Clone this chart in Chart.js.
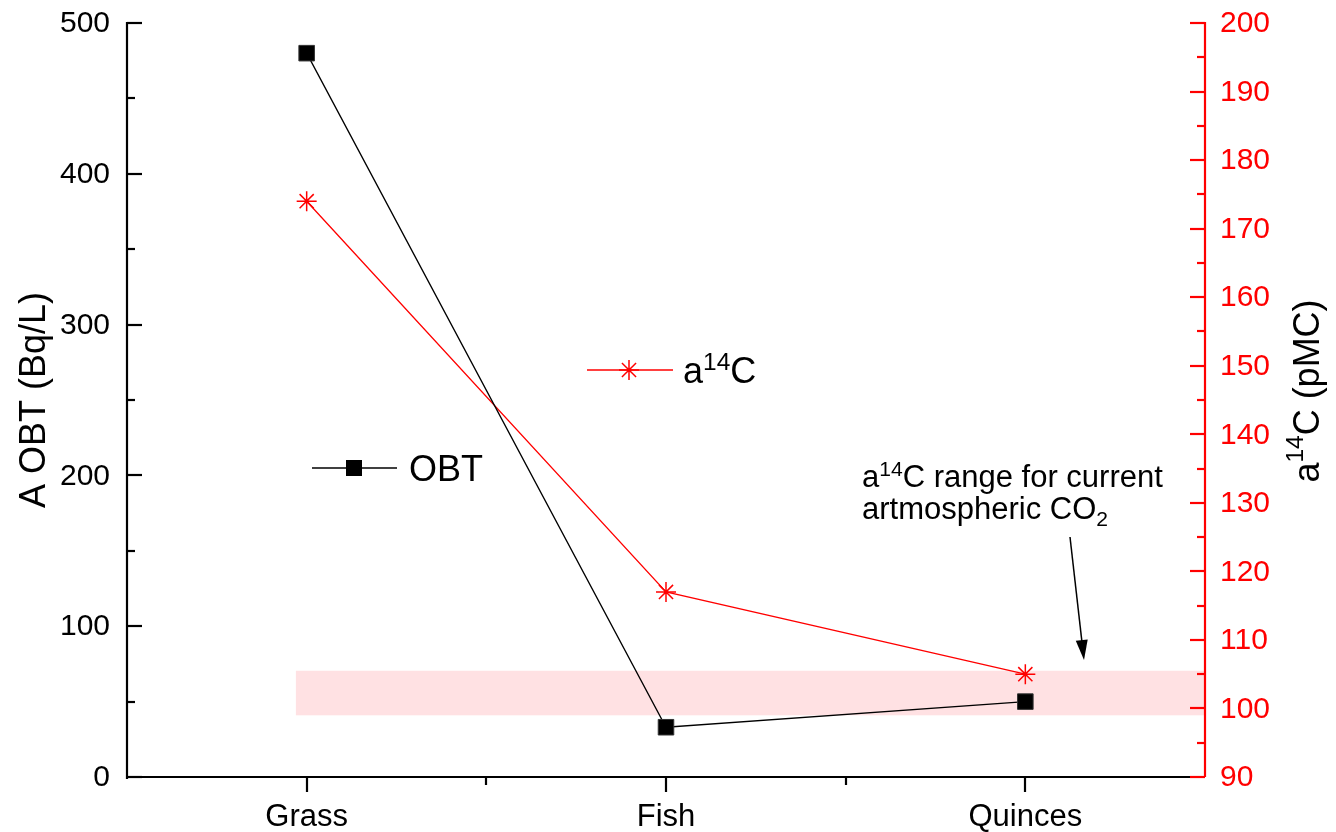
<!DOCTYPE html>
<html>
<head>
<meta charset="utf-8">
<script src="https://cdn.jsdelivr.net/npm/chart.js@4/dist/chart.umd.min.js"></script>
<style>
html,body{margin:0;padding:0;background:#fff;}
#wrap{width:1336px;height:832px;position:relative;}
</style>
</head>
<body>
<div id="wrap"><canvas id="c" width="1336" height="832"></canvas></div>
<script>
// ---- data ----
const categories = ['Grass', 'Fish', 'Quinces'];
const obtValues = [480, 33, 50];          // A OBT (Bq/L), left axis
const a14cValues = [174, 117, 105];       // a14C (pMC), right axis
const leftTicks = [0, 100, 200, 300, 400, 500];
const leftMinorTicks = [50, 150, 250, 350, 450];
const rightTicks = [90, 100, 110, 120, 130, 140, 150, 160, 170, 180, 190, 200];
const rightMinorTicks = [95, 105, 115, 125, 135, 145, 155, 165, 175, 185, 195];
const xMinorTicks = [0.5, 1.5];
const bandPMC = [99, 105.5];              // current atmospheric CO2 a14C range
const bandCategorySpan = [-0.03, 2.5];

const FONT = '"Liberation Sans", Arial, sans-serif';
const RED = '#ff0000';

function richWidth(ctx, parts, size) {
  let w = 0;
  for (const p of parts) {
    const s = p.sup || p.sub ? size * 0.68 : size;
    ctx.font = s + 'px ' + FONT;
    w += ctx.measureText(p.t).width;
  }
  return w;
}
function drawRich(ctx, parts, x, y, size, align) {
  const w = richWidth(ctx, parts, size);
  let cx = align === 'center' ? x - w / 2 : (align === 'right' ? x - w : x);
  ctx.textAlign = 'left';
  for (const p of parts) {
    const s = p.sup || p.sub ? size * 0.68 : size;
    ctx.font = s + 'px ' + FONT;
    let dy = 0;
    if (p.sup) dy = -size * 0.36;
    if (p.sub) dy = size * 0.22;
    ctx.fillText(p.t, cx, y + dy);
    cx += ctx.measureText(p.t).width;
  }
}

const decorPlugin = {
  id: 'decor',
  beforeDatasetsDraw(chart) {
    const ctx = chart.ctx;
    const x = chart.scales.x, y2 = chart.scales.y2;
    const xa = x.getPixelForValue(bandCategorySpan[0]);
    const xb = x.getPixelForValue(bandCategorySpan[1]);
    const ya = y2.getPixelForValue(bandPMC[1]);
    const yb = y2.getPixelForValue(bandPMC[0]);
    ctx.save();
    ctx.fillStyle = '#ffe1e3';
    ctx.fillRect(xa, ya, xb - xa, yb - ya);
    ctx.restore();
  },
  afterDatasetsDraw(chart) {
    const ctx = chart.ctx;
    const a = chart.chartArea;
    const x = chart.scales.x, y = chart.scales.y, y2 = chart.scales.y2;
    ctx.save();
    ctx.lineWidth = 2.2;
    // left axis
    ctx.strokeStyle = '#000';
    ctx.beginPath(); ctx.moveTo(a.left, a.top - 1); ctx.lineTo(a.left, a.bottom + 2); ctx.stroke();
    for (const v of leftTicks) {
      const py = Math.round(y.getPixelForValue(v));
      ctx.beginPath(); ctx.moveTo(a.left, py); ctx.lineTo(a.left + 15, py); ctx.stroke();
    }
    for (const v of leftMinorTicks) {
      const py = Math.round(y.getPixelForValue(v));
      ctx.beginPath(); ctx.moveTo(a.left, py); ctx.lineTo(a.left + 8, py); ctx.stroke();
    }
    // bottom axis
    ctx.beginPath(); ctx.moveTo(a.left - 1, a.bottom); ctx.lineTo(a.right, a.bottom); ctx.stroke();
    categories.forEach((c, i) => {
      const px = Math.round(x.getPixelForValue(i));
      ctx.beginPath(); ctx.moveTo(px, a.bottom); ctx.lineTo(px, a.bottom + 15); ctx.stroke();
    });
    for (const v of xMinorTicks) {
      const px = Math.round(x.getPixelForValue(v));
      ctx.beginPath(); ctx.moveTo(px, a.bottom); ctx.lineTo(px, a.bottom + 8); ctx.stroke();
    }
    // right axis
    ctx.strokeStyle = RED;
    ctx.beginPath(); ctx.moveTo(a.right, a.top - 1); ctx.lineTo(a.right, a.bottom); ctx.stroke();
    for (const v of rightTicks) {
      const py = Math.round(y2.getPixelForValue(v));
      ctx.beginPath(); ctx.moveTo(a.right, py); ctx.lineTo(a.right - 15, py); ctx.stroke();
    }
    for (const v of rightMinorTicks) {
      const py = Math.round(y2.getPixelForValue(v));
      ctx.beginPath(); ctx.moveTo(a.right, py); ctx.lineTo(a.right - 8, py); ctx.stroke();
    }
    ctx.restore();
  },
  afterDraw(chart) {
    const ctx = chart.ctx;
    const a = chart.chartArea;
    const x = chart.scales.x, y = chart.scales.y, y2 = chart.scales.y2;
    ctx.save();
    // tick labels
    ctx.font = '30px ' + FONT;
    ctx.fillStyle = '#000';
    ctx.textAlign = 'right'; ctx.textBaseline = 'middle';
    for (const v of leftTicks) ctx.fillText(String(v), a.left - 17, y.getPixelForValue(v) + 1);
    ctx.fillStyle = RED; ctx.textAlign = 'left';
    for (const v of rightTicks) ctx.fillText(String(v), a.right + 15, y2.getPixelForValue(v) + 1);
    ctx.fillStyle = '#000'; ctx.textAlign = 'center'; ctx.textBaseline = 'alphabetic';
    ctx.font = '31px ' + FONT;
    categories.forEach((c, i) => ctx.fillText(c, x.getPixelForValue(i), 826));

    // axis titles
    ctx.textBaseline = 'middle';
    ctx.save();
    ctx.translate(35, (a.top + a.bottom) / 2);
    ctx.rotate(-Math.PI / 2);
    ctx.font = '36px ' + FONT; ctx.textAlign = 'center';
    ctx.fillText('A OBT (Bq/L)', 0, 0);
    ctx.restore();
    ctx.save();
    ctx.translate(1309, 391);
    ctx.rotate(-Math.PI / 2);
    drawRich(ctx, [{t:'a'},{t:'14',sup:true},{t:'C (pMC)'}], 0, 0, 36, 'center');
    ctx.restore();

    // in-plot legends
    ctx.textBaseline = 'alphabetic';
    ctx.lineWidth = 1.3;
    ctx.strokeStyle = '#000';
    ctx.beginPath(); ctx.moveTo(312, 468); ctx.lineTo(397, 468); ctx.stroke();
    ctx.fillStyle = '#000';
    ctx.fillRect(346, 460, 16, 16);
    ctx.font = '36px ' + FONT; ctx.textAlign = 'left';
    ctx.fillText('OBT', 409, 481);

    ctx.strokeStyle = RED;
    ctx.beginPath(); ctx.moveTo(587, 370); ctx.lineTo(673, 370); ctx.stroke();
    ctx.lineWidth = 1.5;
    const sx = 629, sy = 370, r = 10, d = r * Math.SQRT1_2;
    ctx.beginPath();
    ctx.moveTo(sx - r, sy); ctx.lineTo(sx + r, sy);
    ctx.moveTo(sx, sy - r); ctx.lineTo(sx, sy + r);
    ctx.moveTo(sx - d, sy - d); ctx.lineTo(sx + d, sy + d);
    ctx.moveTo(sx - d, sy + d); ctx.lineTo(sx + d, sy - d);
    ctx.stroke();
    ctx.fillStyle = '#000';
    drawRich(ctx, [{t:'a'},{t:'14',sup:true},{t:'C'}], 683, 383, 36, 'left');

    // annotation
    drawRich(ctx, [{t:'a'},{t:'14',sup:true},{t:'C range for current'}], 862, 487, 31, 'left');
    drawRich(ctx, [{t:'artmospheric CO'},{t:'2',sub:true}], 862, 519, 31, 'left');
    // arrow
    const x0 = 1070, y0 = 537, x1 = 1084, y1 = 660;
    const ang = Math.atan2(y1 - y0, x1 - x0);
    ctx.strokeStyle = '#000'; ctx.lineWidth = 1.5;
    ctx.beginPath(); ctx.moveTo(x0, y0);
    ctx.lineTo(x1 - 16 * Math.cos(ang), y1 - 16 * Math.sin(ang)); ctx.stroke();
    ctx.beginPath();
    ctx.moveTo(x1, y1);
    ctx.lineTo(x1 - 20 * Math.cos(ang) + 6 * Math.sin(ang), y1 - 20 * Math.sin(ang) - 6 * Math.cos(ang));
    ctx.lineTo(x1 - 20 * Math.cos(ang) - 6 * Math.sin(ang), y1 - 20 * Math.sin(ang) + 6 * Math.cos(ang));
    ctx.closePath(); ctx.fill();
    ctx.restore();
  }
};

new Chart(document.getElementById('c'), {
  type: 'line',
  data: {
    labels: categories,
    datasets: [
      {
        label: 'OBT',
        data: obtValues,
        yAxisID: 'y',
        borderColor: '#000',
        borderWidth: 1.3,
        pointStyle: 'rect',
        pointRadius: 11,
        pointBackgroundColor: '#000',
        pointBorderColor: '#333',
        pointBorderWidth: 1,
        tension: 0
      },
      {
        label: 'a14C',
        data: a14cValues,
        yAxisID: 'y2',
        borderColor: RED,
        borderWidth: 1.3,
        pointStyle: 'star',
        pointRadius: 10,
        pointBorderColor: RED,
        pointBackgroundColor: RED,
        pointBorderWidth: 1.5,
        tension: 0
      }
    ]
  },
  options: {
    responsive: false,
    animation: false,
    layout: { padding: { left: 127, right: 131, top: 23, bottom: 55 } },
    plugins: { legend: { display: false }, tooltip: { enabled: false } },
    scales: {
      x: { type: 'category', offset: true, display: false },
      y: { type: 'linear', min: 0, max: 500, display: false, ticks: { stepSize: 100 } },
      y2: { type: 'linear', position: 'right', min: 90, max: 200, display: false, ticks: { stepSize: 10 } }
    }
  },
  plugins: [decorPlugin]
});
</script>
</body>
</html>
